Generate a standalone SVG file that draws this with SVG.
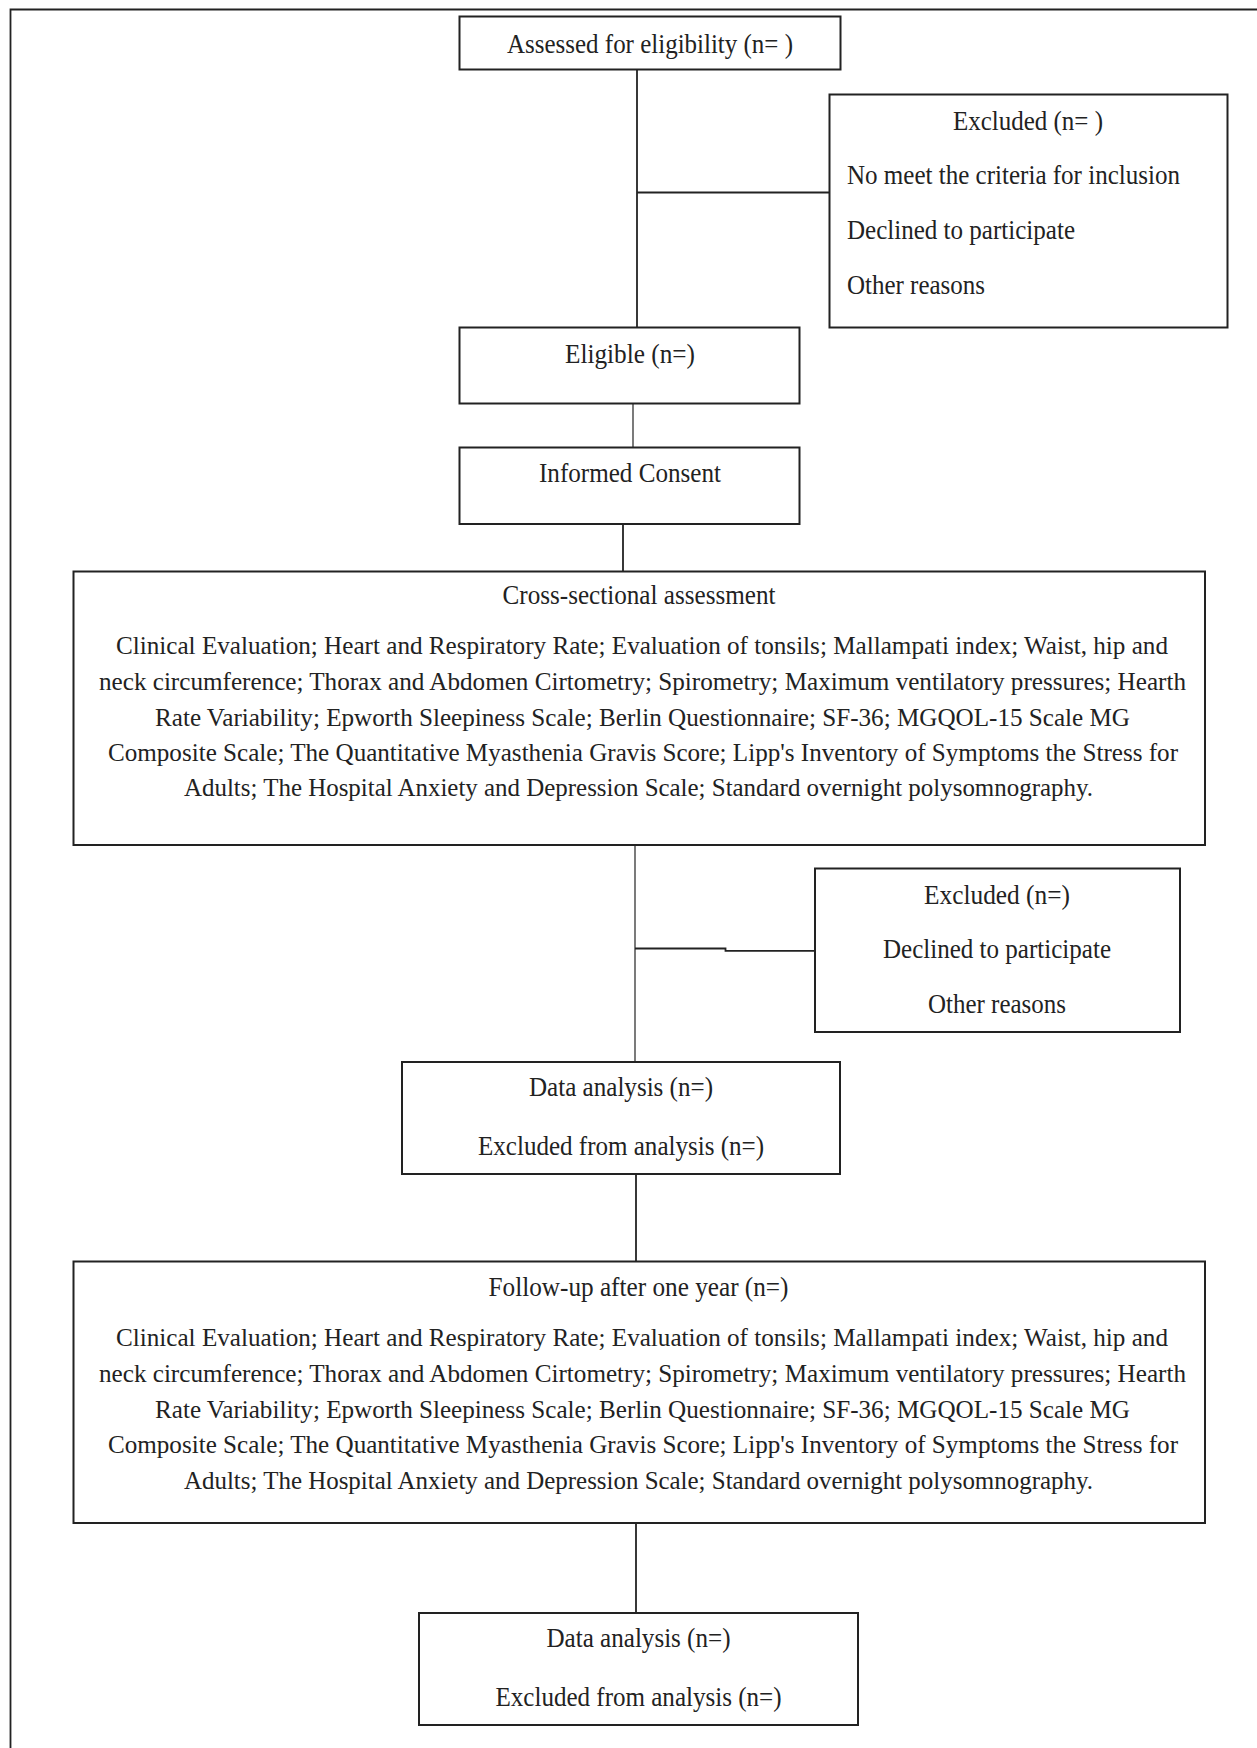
<svg xmlns="http://www.w3.org/2000/svg" width="1257" height="1748" viewBox="0 0 1257 1748">
<style>
.box{fill:#fff;stroke:#222;stroke-width:2}
.ln{fill:none;stroke:#222;stroke-width:1.8}
.thin{fill:none;stroke:#333;stroke-width:1.3}
text{font-family:"Liberation Serif","Times New Roman",serif;font-size:27px;fill:#222}
text.b{font-size:25px}
.c{text-anchor:middle}
</style>
<rect width="1257" height="1748" fill="#fff"/>
<g id="frame">
<path class="ln" d="M10.5 1748 V9.5 H1257" stroke-width="2.2"/>
</g>
<g id="connectors">
<path class="ln" d="M637 70 V327"/>
<path class="ln" d="M637 192.5 H829"/>
<path class="thin" d="M633 404 V447.5"/>
<path class="ln" d="M623 524 V571.5"/>
<path class="thin" d="M635 845 V1062"/>
<path class="ln" d="M635 948.5 H725.5 V950.8 H815"/>
<path class="ln" d="M636 1174 V1261.5"/>
<path class="ln" d="M636 1523 V1613"/>
</g>
<g id="n1">
<rect class="box" x="459.5" y="16.5" width="381" height="53"/>
<text class="c" x="650" y="52.5" textLength="286" lengthAdjust="spacingAndGlyphs">Assessed for eligibility (n= )</text>
</g>
<g id="n2">
<rect class="box" x="829.5" y="94.5" width="398" height="233"/>
<text class="c" x="1028" y="130" textLength="150" lengthAdjust="spacingAndGlyphs">Excluded (n= )</text>
<text x="847" y="183.5" textLength="333" lengthAdjust="spacingAndGlyphs">No meet the criteria for inclusion</text>
<text x="847" y="238.5" textLength="228" lengthAdjust="spacingAndGlyphs">Declined to participate</text>
<text x="847" y="294" textLength="138" lengthAdjust="spacingAndGlyphs">Other reasons</text>
</g>
<g id="n3">
<rect class="box" x="459.5" y="327.5" width="340" height="76"/>
<text class="c" x="630" y="362.5" textLength="130" lengthAdjust="spacingAndGlyphs">Eligible (n=)</text>
</g>
<g id="n4">
<rect class="box" x="459.5" y="447.5" width="340" height="76.5"/>
<text class="c" x="630" y="482" textLength="182" lengthAdjust="spacingAndGlyphs">Informed Consent</text>
</g>
<g id="n5">
<rect class="box" x="73.5" y="571.5" width="1131.5" height="273.5"/>
<text class="c" x="639" y="604" textLength="273" lengthAdjust="spacingAndGlyphs">Cross-sectional assessment</text>
<text class="b" x="116" y="654" textLength="1052" lengthAdjust="spacingAndGlyphs">Clinical Evaluation; Heart and Respiratory Rate; Evaluation of tonsils; Mallampati index; Waist, hip and</text>
<text class="b" x="99" y="690" textLength="1087" lengthAdjust="spacingAndGlyphs">neck circumference; Thorax and Abdomen Cirtometry; Spirometry; Maximum ventilatory pressures; Hearth</text>
<text class="b" x="155" y="725.5" textLength="975" lengthAdjust="spacingAndGlyphs">Rate Variability; Epworth Sleepiness Scale; Berlin Questionnaire; SF-36; MGQOL-15 Scale MG</text>
<text class="b" x="108" y="761" textLength="1070" lengthAdjust="spacingAndGlyphs">Composite Scale; The Quantitative Myasthenia Gravis Score; Lipp's Inventory of Symptoms the Stress for</text>
<text class="b" x="184" y="795.5" textLength="909" lengthAdjust="spacingAndGlyphs">Adults; The Hospital Anxiety and Depression Scale; Standard overnight polysomnography.</text>
</g>
<g id="n6">
<rect class="box" x="815" y="868.5" width="365" height="163.5"/>
<text class="c" x="997" y="904" textLength="146" lengthAdjust="spacingAndGlyphs">Excluded (n=)</text>
<text class="c" x="997" y="957.5" textLength="228" lengthAdjust="spacingAndGlyphs">Declined to participate</text>
<text class="c" x="997" y="1012.5" textLength="138" lengthAdjust="spacingAndGlyphs">Other reasons</text>
</g>
<g id="n7">
<rect class="box" x="402" y="1062" width="438" height="112"/>
<text class="c" x="621" y="1095.5" textLength="184" lengthAdjust="spacingAndGlyphs">Data analysis (n=)</text>
<text class="c" x="621" y="1155" textLength="286" lengthAdjust="spacingAndGlyphs">Excluded from analysis (n=)</text>
</g>
<g id="n8">
<rect class="box" x="73.5" y="1261.5" width="1131.5" height="261.5"/>
<text class="c" x="638.5" y="1296" textLength="300" lengthAdjust="spacingAndGlyphs">Follow-up after one year (n=)</text>
<text class="b" x="116" y="1346" textLength="1052" lengthAdjust="spacingAndGlyphs">Clinical Evaluation; Heart and Respiratory Rate; Evaluation of tonsils; Mallampati index; Waist, hip and</text>
<text class="b" x="99" y="1382" textLength="1087" lengthAdjust="spacingAndGlyphs">neck circumference; Thorax and Abdomen Cirtometry; Spirometry; Maximum ventilatory pressures; Hearth</text>
<text class="b" x="155" y="1417.5" textLength="975" lengthAdjust="spacingAndGlyphs">Rate Variability; Epworth Sleepiness Scale; Berlin Questionnaire; SF-36; MGQOL-15 Scale MG</text>
<text class="b" x="108" y="1453" textLength="1070" lengthAdjust="spacingAndGlyphs">Composite Scale; The Quantitative Myasthenia Gravis Score; Lipp's Inventory of Symptoms the Stress for</text>
<text class="b" x="184" y="1488.5" textLength="909" lengthAdjust="spacingAndGlyphs">Adults; The Hospital Anxiety and Depression Scale; Standard overnight polysomnography.</text>
</g>
<g id="n9">
<rect class="box" x="419" y="1613" width="439" height="112"/>
<text class="c" x="638.5" y="1646.5" textLength="184" lengthAdjust="spacingAndGlyphs">Data analysis (n=)</text>
<text class="c" x="638.5" y="1706" textLength="286" lengthAdjust="spacingAndGlyphs">Excluded from analysis (n=)</text>
</g>
</svg>
